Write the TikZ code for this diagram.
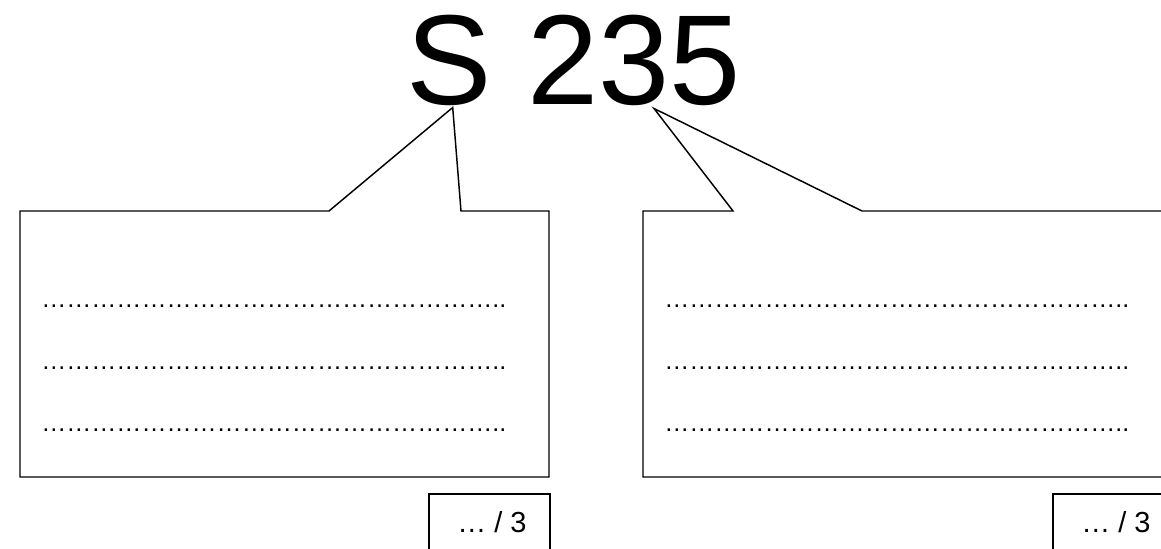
\documentclass[tikz,border=0pt]{standalone}
\usepackage{fontspec}
\setmainfont{Liberation Sans}
\begin{document}
\begin{tikzpicture}[x=0.75pt,y=-0.75pt,
  outline/.style={draw=black,line width=1.1pt,line join=miter},
  dotline/.style={anchor=base west,inner sep=0pt,font=\fontsize{18.8}{22}\selectfont},
  scorebox/.style={draw=black,line width=1.1pt},
  scoretext/.style={anchor=base west,inner sep=0pt,font=\fontsize{21.75}{26}\selectfont}]
\useasboundingbox (0,0) rectangle (1161,549);
\clip (0,0) rectangle (1161,549);
\fill[white] (0,0) rectangle (1161,549);
% title
\node[anchor=base,inner sep=0pt,font=\fontsize{96}{110}\selectfont] (title) at (574,105) {S 235};
\coordinate (apexL) at (452.7,107.5);
\coordinate (apexR) at (654,108.5);
% left callout
\draw[outline] (329,211) -- (20,211) -- (20,477) -- (549,477) -- (549,211) -- (461,211) -- (apexL) -- cycle;
% right callout
\draw[outline] (733,211) -- (643,211) -- (643,477) -- (1174,477) -- (1174,211) -- (862,211) -- (apexR) -- cycle;
% dotted lines
\foreach \yy [count=\i] in {307.5,369.5,431.5}{
  \node[dotline] (dl\i) at (41,\yy) {………………………………………………..};
  \node[dotline] (dr\i) at (664,\yy) {………………………………………………..};
}
% score boxes
\draw[scorebox] (429,494) rectangle (550,549.5);
\node[scoretext] (scoreL) at (457,532) {… / 3};
\draw[scorebox] (1053,494) rectangle (1174,549.5);
\node[scoretext] (scoreR) at (1081,532) {… / 3};
\end{tikzpicture}
\end{document}
